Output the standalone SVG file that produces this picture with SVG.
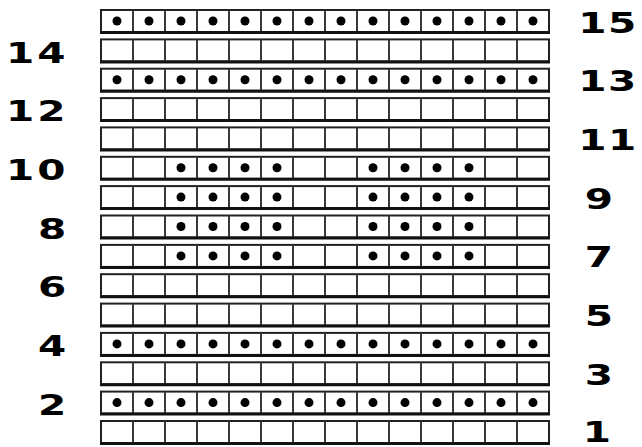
<svg xmlns="http://www.w3.org/2000/svg" xmlns:xlink="http://www.w3.org/1999/xlink" width="642" height="447" viewBox="0 0 642 447">
<style>
.lbl{font-family:"DejaVu Sans","Liberation Sans",sans-serif;font-weight:bold;font-size:28px;fill:#000;text-anchor:middle}
.dot{fill:#000}
</style>
<defs>
<g id="grid">
<rect x="101" y="0" width="448" height="22" fill="#fff" stroke="#222" stroke-width="2"/>
<path d="M133 0V22M165 0V22M197 0V22M229 0V22M261 0V22M293 0V22M325 0V22M357 0V22M389 0V22M421 0V22M453 0V22M485 0V22M517 0V22" stroke="#3a3a3a" stroke-width="2" fill="none"/>
<path d="M100 22.5H550" stroke="#111" stroke-width="3"/>
</g>
<g id="dotsAll" class="dot">
<circle cx="117" cy="11" r="4.5"/><circle cx="149" cy="11" r="4.5"/><circle cx="181" cy="11" r="4.5"/><circle cx="213" cy="11" r="4.5"/><circle cx="245" cy="11" r="4.5"/><circle cx="277" cy="11" r="4.5"/><circle cx="309" cy="11" r="4.5"/><circle cx="341" cy="11" r="4.5"/><circle cx="373" cy="11" r="4.5"/><circle cx="405" cy="11" r="4.5"/><circle cx="437" cy="11" r="4.5"/><circle cx="469" cy="11" r="4.5"/><circle cx="501" cy="11" r="4.5"/><circle cx="533" cy="11" r="4.5"/>
</g>
<g id="dotsMid" class="dot">
<circle cx="181" cy="11" r="4.5"/><circle cx="213" cy="11" r="4.5"/><circle cx="245" cy="11" r="4.5"/><circle cx="277" cy="11" r="4.5"/><circle cx="373" cy="11" r="4.5"/><circle cx="405" cy="11" r="4.5"/><circle cx="437" cy="11" r="4.5"/><circle cx="469" cy="11" r="4.5"/>
</g>
</defs>
<rect width="642" height="447" fill="#fff"/>
<g id="rows">
<g id="row15" transform="translate(0,10)"><use xlink:href="#grid"/><use xlink:href="#dotsAll"/></g>
<g id="row14" transform="translate(0,39.4)"><use xlink:href="#grid"/></g>
<g id="row13" transform="translate(0,68.7)"><use xlink:href="#grid"/><use xlink:href="#dotsAll"/></g>
<g id="row12" transform="translate(0,98.1)"><use xlink:href="#grid"/></g>
<g id="row11" transform="translate(0,127.4)"><use xlink:href="#grid"/></g>
<g id="row10" transform="translate(0,156.8)"><use xlink:href="#grid"/><use xlink:href="#dotsMid"/></g>
<g id="row9" transform="translate(0,186.1)"><use xlink:href="#grid"/><use xlink:href="#dotsMid"/></g>
<g id="row8" transform="translate(0,215.5)"><use xlink:href="#grid"/><use xlink:href="#dotsMid"/></g>
<g id="row7" transform="translate(0,244.9)"><use xlink:href="#grid"/><use xlink:href="#dotsMid"/></g>
<g id="row6" transform="translate(0,274.2)"><use xlink:href="#grid"/></g>
<g id="row5" transform="translate(0,303.6)"><use xlink:href="#grid"/></g>
<g id="row4" transform="translate(0,332.9)"><use xlink:href="#grid"/><use xlink:href="#dotsAll"/></g>
<g id="row3" transform="translate(0,362.3)"><use xlink:href="#grid"/></g>
<g id="row2" transform="translate(0,391.6)"><use xlink:href="#grid"/><use xlink:href="#dotsAll"/></g>
<g id="row1" transform="translate(0,421)"><use xlink:href="#grid"/></g>
</g>
<g id="labels-left">
<text class="lbl" transform="translate(0,63.4) scale(1.45,1)"><tspan x="13.8">1</tspan><tspan x="35.5">4</tspan></text>
<text class="lbl" transform="translate(0,121.1) scale(1.45,1)"><tspan x="13.8">1</tspan><tspan x="35.5">2</tspan></text>
<text class="lbl" transform="translate(0,179.8) scale(1.45,1)"><tspan x="13.8">1</tspan><tspan x="35.5">0</tspan></text>
<text class="lbl" transform="translate(0,238.5) scale(1.45,1)" x="35.9">8</text>
<text class="lbl" transform="translate(0,297.2) scale(1.45,1)" x="35.9">6</text>
<text class="lbl" transform="translate(0,355.9) scale(1.45,1)" x="35.9">4</text>
<text class="lbl" transform="translate(0,414.6) scale(1.45,1)" x="35.9">2</text>
</g>
<g id="labels-right">
<text class="lbl" transform="translate(0,32.5) scale(1.45,1)"><tspan x="408.6">1</tspan><tspan x="429">5</tspan></text>
<text class="lbl" transform="translate(0,91.2) scale(1.45,1)"><tspan x="408.6">1</tspan><tspan x="429">3</tspan></text>
<text class="lbl" transform="translate(0,149.9) scale(1.45,1)"><tspan x="408.6">1</tspan><tspan x="429">1</tspan></text>
<text class="lbl" transform="translate(0,208.6) scale(1.45,1)" x="413.1">9</text>
<text class="lbl" transform="translate(0,267.4) scale(1.45,1)" x="413.1">7</text>
<text class="lbl" transform="translate(0,326.1) scale(1.45,1)" x="413.1">5</text>
<text class="lbl" transform="translate(0,384.8) scale(1.45,1)" x="413.1">3</text>
<text class="lbl" transform="translate(0,442) scale(1.45,1)" x="411.7">1</text>
</g>
</svg>
